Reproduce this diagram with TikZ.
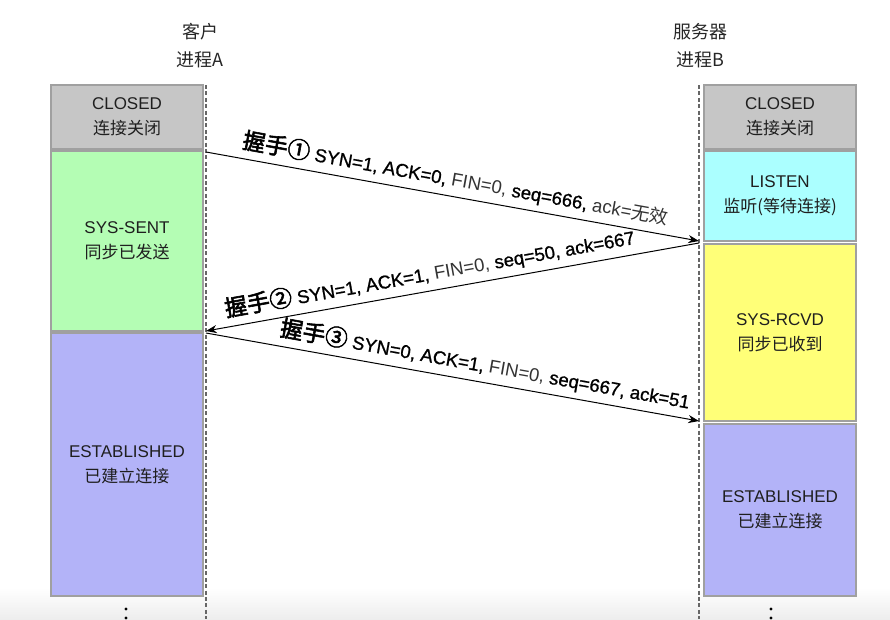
\documentclass[tikz,border=0pt]{standalone}
\usepackage{fontspec}
\setmainfont{Liberation Sans}
\newfontfamily\cjk{Noto Sans CJK SC}
\newfontfamily\cjkbold[FakeBold=2.5]{Noto Sans CJK SC}
\newfontfamily\medsans[FakeBold=1.0]{Liberation Sans}
\usetikzlibrary{arrows.meta}
\definecolor{cgray}{HTML}{C6C6C6}
\definecolor{cgreen}{HTML}{B4FDB4}
\definecolor{ccyan}{HTML}{ABFFFF}
\definecolor{cyellow}{HTML}{FFFF78}
\definecolor{cblue}{HTML}{B3B3F8}
\definecolor{boxline}{HTML}{A0A0A0}
\newcommand{\hs}[1]{{\color{black}\medsans #1}}
\newcommand{\hk}[1]{{\color{black}\cjkbold\fontsize{17}{19}\selectfont #1}}
\begin{document}
\begin{tikzpicture}[x=0.75pt,y=-0.75pt,
  box/.style={draw=boxline, line width=0.8pt, minimum width=114pt, inner sep=0pt,
              align=center, font=\fontsize{12.75}{18.75}\selectfont, text=black!88},
  life/.style={draw=black!60, line width=0.9pt, dash pattern=on 3pt off 1.8pt},
  msg/.style={draw=black, line width=0.75pt, -{Stealth[length=8pt,width=6pt,inset=2.5pt]}},
  lbl/.style={sloped, above=3.5pt, inner sep=1pt, font=\fontsize{13.9}{16}\selectfont, text=black!80},
  hdr/.style={align=center, font=\cjk\fontsize{13.5}{21}\selectfont, text=black!85},
  dot/.style={fill=black, circle, inner sep=0pt, minimum size=2.6pt}]
\useasboundingbox (0,0) rectangle (890,619);
\shade[top color=white, bottom color=black!7] (0,588) rectangle (890,619);

% headers
\node[hdr] (hA) at (200,46) {客户\\进程A};
\node[hdr] (hB) at (700,46) {服务器\\进程B};

% state boxes, client
\node[box, fill=cgray,  minimum height=48pt]     (aClosed) at (127,117)   {CLOSED\\{\cjk 连接关闭}};
\node[box, fill=cgreen, minimum height=135pt]    (aSent)   at (127,241)   {SYS-SENT\\{\cjk 同步已发送}};
\node[box, fill=cblue,  minimum height=197.25pt] (aEst)    at (127,464.5) {ESTABLISHED\\{\cjk 已建立连接}};

% state boxes, server
\node[box, fill=cgray,   minimum height=48pt]     (bClosed) at (780,117)   {CLOSED\\{\cjk 连接关闭}};
\node[box, fill=ccyan,   minimum height=67.5pt]   (bListen) at (780,196)   {LISTEN\\{\cjk 监听(等待连接)}};
\node[box, fill=cyellow, minimum height=132.75pt] (bRcvd)   at (780,332.5) {SYS-RCVD\\{\cjk 同步已收到}};
\node[box, fill=cblue,   minimum height=129pt]    (bEst)    at (780,510)   {ESTABLISHED\\{\cjk 已建立连接}};

% lifelines
\coordinate (la0) at (206,85);  \coordinate (la1) at (206,619);
\coordinate (lb0) at (699,85);  \coordinate (lb1) at (699,619);
\draw[life] (la0) -- (la1);
\draw[life] (lb0) -- (lb1);

% message end points
\coordinate (m1s) at (206,152); \coordinate (m1e) at (699,241);
\coordinate (m2s) at (699,243); \coordinate (m2e) at (206,331);
\coordinate (m3s) at (206,333); \coordinate (m3e) at (699,421);

\draw[msg] (m1s) -- node[lbl, pos=0.5] (l1)
  {\hk{握手①} \hs{SYN=1, ACK=0,} FIN=0, \hs{seq=666,} ack={\cjk 无效}} (m1e);
\draw[msg] (m2s) -- node[lbl, pos=0.54] (l2)
  {\hk{握手②} \hs{SYN=1, ACK=1,} FIN=0, \hs{seq=50, ack=667}} (m2e);
\draw[msg] (m3s) -- node[lbl, pos=0.56] (l3)
  {\hk{握手③} \hs{SYN=0, ACK=1,} FIN=0, \hs{seq=667, ack=51}} (m3e);

% continuation dots
\node[dot] (da1) at (126,609) {};
\node[dot] (da2) at (126,618) {};
\node[dot] (db1) at (771,609) {};
\node[dot] (db2) at (771,618) {};
\end{tikzpicture}
\end{document}
